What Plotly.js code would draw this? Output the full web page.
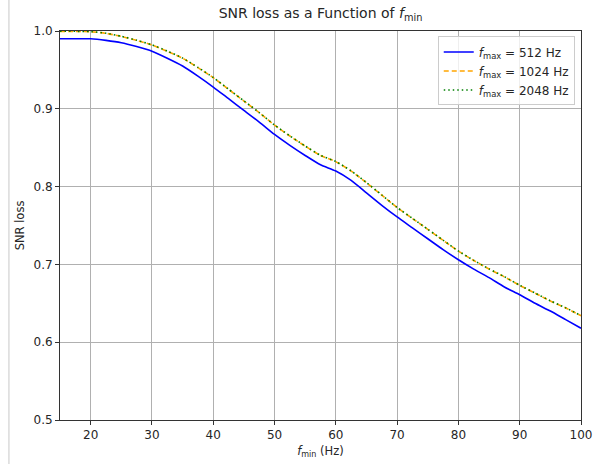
<!DOCTYPE html>
<html>
<head>
<meta charset="utf-8">
<script src="https://cdn.plot.ly/plotly-3.0.1.min.js"></script>
<style>html,body{margin:0;padding:0;background:#fff;}#chart{width:594px;height:464px;}</style>
</head>
<body>
<div id="chart"></div>
<script>
const fmin = [15, 17.5, 20, 22.5, 25, 27.5, 30, 32.5, 35, 37.5, 40, 42.5, 45, 47.5, 50, 52.5, 55, 57.5, 60, 62.5, 65, 67.5, 70, 72.5, 75, 77.5, 80, 82.5, 85, 87.5, 90, 92.5, 95, 97.5, 100];
const loss512 = [0.990, 0.990, 0.990, 0.988, 0.985, 0.980, 0.974, 0.965, 0.955, 0.942, 0.928, 0.913, 0.898, 0.883, 0.867, 0.853, 0.840, 0.828, 0.820, 0.808, 0.792, 0.776, 0.761, 0.747, 0.733, 0.719, 0.706, 0.694, 0.683, 0.671, 0.661, 0.650, 0.640, 0.629, 0.618];
const loss1024 = [0.9995, 0.9995, 0.999, 0.997, 0.993, 0.988, 0.982, 0.974, 0.965, 0.953, 0.940, 0.925, 0.910, 0.895, 0.879, 0.865, 0.852, 0.840, 0.832, 0.820, 0.805, 0.789, 0.773, 0.759, 0.745, 0.731, 0.717, 0.705, 0.694, 0.684, 0.673, 0.663, 0.653, 0.644, 0.634];
const loss2048 = [0.9996, 0.9996, 0.9992, 0.9972, 0.9932, 0.9882, 0.9822, 0.9742, 0.9652, 0.9532, 0.9402, 0.9252, 0.9102, 0.8952, 0.8792, 0.8652, 0.8522, 0.8402, 0.8322, 0.8202, 0.8052, 0.7892, 0.7732, 0.7592, 0.7452, 0.7312, 0.7172, 0.7052, 0.6942, 0.6842, 0.6732, 0.6632, 0.6532, 0.6442, 0.6342];
const seriesNames = ['<i>f</i><sub>max</sub> = 512 Hz', '<i>f</i><sub>max</sub> = 1024 Hz', '<i>f</i><sub>max</sub> = 2048 Hz'];
const xTicks = [20, 30, 40, 50, 60, 70, 80, 90, 100];
const yTicks = [0.5, 0.6, 0.7, 0.8, 0.9, 1.0];

const font = 'DejaVu Sans, sans-serif';
const traces = [
  {x: fmin, y: loss512, name: seriesNames[0], mode: 'lines', line: {color: '#0000ff', width: 1.6, shape: 'spline', smoothing: 0.6}},
  {x: fmin, y: loss1024, name: seriesNames[1], mode: 'lines', line: {color: '#ffa500', width: 1.6, dash: '5px,3px', shape: 'spline', smoothing: 0.6}},
  {x: fmin, y: loss2048, name: seriesNames[2], mode: 'lines', line: {color: '#008000', width: 1.6, dash: '1.5px,3px', shape: 'spline', smoothing: 0.6}}
];

const axisCommon = {
  showline: true, mirror: true, linecolor: '#333', linewidth: 1,
  ticks: 'outside', ticklen: 4, tickwidth: 1, tickcolor: '#333',
  showgrid: true, gridcolor: '#b0b0b0', gridwidth: 1,
  zeroline: false, tickfont: {family: font, size: 12, color: '#262626'}
};

const layout = {
  width: 594, height: 464,
  margin: {l: 60, r: 13, t: 31, b: 44},
  paper_bgcolor: '#fff', plot_bgcolor: '#fff',
  font: {family: font, color: '#262626'},
  title: {text: 'SNR loss as a Function of <i>f</i><sub>min</sub>', font: {family: font, size: 14, color: '#262626'}, x: 0.5, xref: 'paper', y: 0.972, yanchor: 'middle'},
  xaxis: Object.assign({}, axisCommon, {
    range: [15, 100], tickvals: xTicks, ticktext: xTicks.map(String),
    title: {text: '<i>f</i><sub>min</sub> (Hz)', font: {family: font, size: 11.5, color: '#262626'}, standoff: 5}
  }),
  yaxis: Object.assign({}, axisCommon, {
    range: [0.5, 1.0], tickvals: yTicks, ticktext: yTicks.map(v => v.toFixed(1)),
    title: {text: 'SNR loss', font: {family: font, size: 11.5, color: '#262626'}, standoff: 6}
  }),
  legend: {
    x: 0.988, xanchor: 'right', y: 0.986, yanchor: 'top', itemwidth: 30,
    bgcolor: 'rgba(255,255,255,0.8)', bordercolor: '#cccccc', borderwidth: 1,
    font: {family: font, size: 12, color: '#262626'}
  },
  shapes: [
    {type: 'line', xref: 'paper', yref: 'paper', x0: -0.098, x1: -0.098, y0: -0.12, y1: 1.09, line: {color: '#c8c8c8', width: 1}}
  ],
  showlegend: true
};

Plotly.newPlot('chart', traces, layout, {displayModeBar: false, staticPlot: true});
</script>
</body>
</html>
